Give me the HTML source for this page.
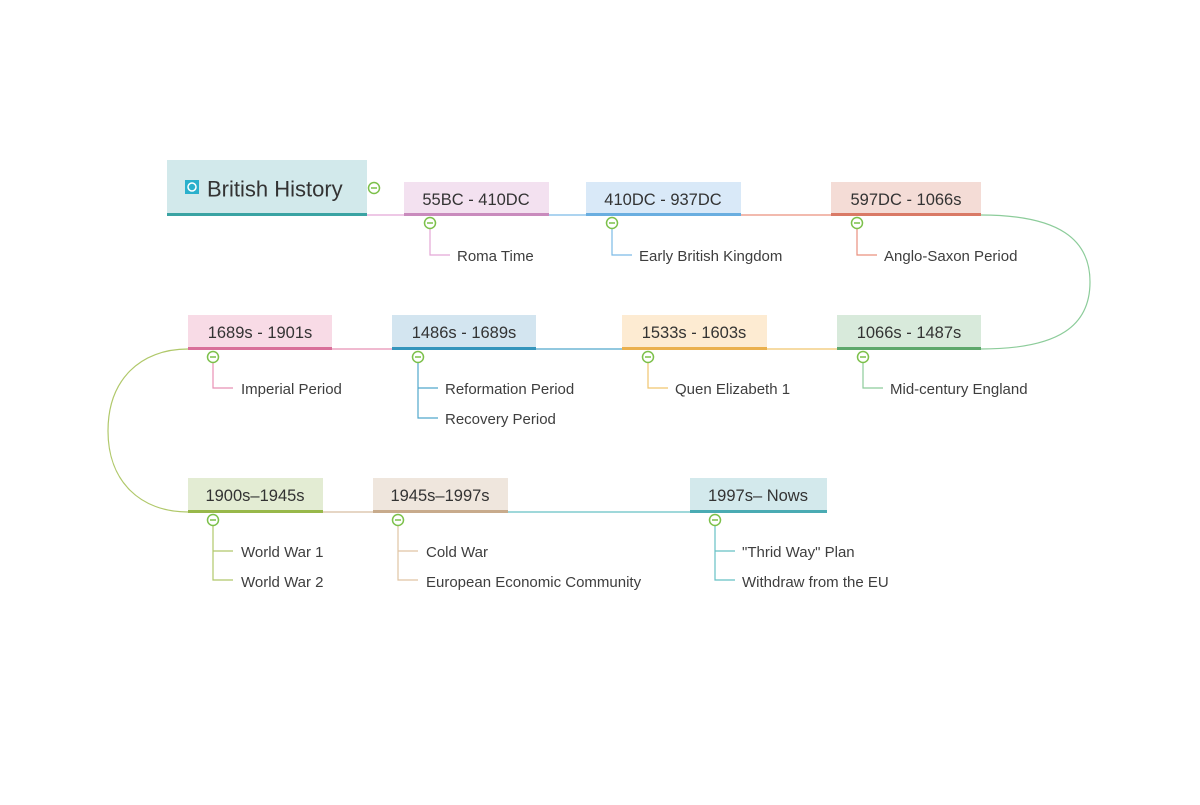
<!DOCTYPE html>
<html><head><meta charset="utf-8"><style>
html,body{margin:0;padding:0;background:#fff;}
svg text{font-family:"Liberation Sans",sans-serif;}
.n{font-size:16.5px;fill:#333;text-anchor:middle;}
.c{font-size:15px;fill:#3e3e3e;}
</style></head><body>
<svg width="1200" height="800" viewBox="0 0 1200 800" xmlns="http://www.w3.org/2000/svg">
<rect width="1200" height="800" fill="#fff"/>
<line x1="367" y1="215" x2="404" y2="215" stroke="#e4a6d6" stroke-width="1.2"/>
<line x1="549" y1="215" x2="586" y2="215" stroke="#7cbbe6" stroke-width="1.2"/>
<line x1="741" y1="215" x2="831" y2="215" stroke="#e9907e" stroke-width="1.2"/>
<path d="M981,215 C1060,215 1090,240 1090,282 C1090,325 1060,349 981,349" fill="none" stroke="#8ccc9a" stroke-width="1.2"/>
<line x1="767" y1="349" x2="837" y2="349" stroke="#f0c56e" stroke-width="1.2"/>
<line x1="536" y1="349" x2="622" y2="349" stroke="#50a8cc" stroke-width="1.2"/>
<line x1="332" y1="349" x2="392" y2="349" stroke="#e890b4" stroke-width="1.2"/>
<path d="M188,349 C140,349 108,380 108,431 C108,481 140,512 188,512" fill="none" stroke="#b0c86a" stroke-width="1.2"/>
<line x1="323" y1="512" x2="373" y2="512" stroke="#d6bea2" stroke-width="1.2"/>
<line x1="508" y1="512" x2="690" y2="512" stroke="#66c0c4" stroke-width="1.2"/>

<rect x="167" y="160" width="200" height="56" fill="#d2e9eb"/>
<rect x="167" y="213" width="200" height="3" fill="#3aa3a3"/>
<rect x="185" y="180" width="14" height="14" fill="#2ab0cc"/>
<circle cx="192" cy="187" r="4" fill="none" stroke="#fff" stroke-width="1.5"/>
<text x="207" y="196.5" style="font-size:22px;fill:#333">British History</text>

<rect x="404" y="182" width="145" height="34" fill="#f3e1f0"/><rect x="404" y="213" width="145" height="3" fill="#c98bbd"/><text class="n" x="476" y="205">55BC - 410DC</text>
<rect x="586" y="182" width="155" height="34" fill="#d9e9f8"/><rect x="586" y="213" width="155" height="3" fill="#6aaee0"/><text class="n" x="663" y="205">410DC - 937DC</text>
<rect x="831" y="182" width="150" height="34" fill="#f4dcd6"/><rect x="831" y="213" width="150" height="3" fill="#d97a66"/><text class="n" x="906" y="205">597DC - 1066s</text>

<rect x="188" y="315" width="144" height="35" fill="#f8dbe6"/><rect x="188" y="347" width="144" height="3" fill="#d9709a"/><text class="n" x="260" y="338">1689s - 1901s</text>
<rect x="392" y="315" width="144" height="35" fill="#d3e5f0"/><rect x="392" y="347" width="144" height="3" fill="#3595bc"/><text class="n" x="464" y="338">1486s - 1689s</text>
<rect x="622" y="315" width="145" height="35" fill="#fdebd2"/><rect x="622" y="347" width="145" height="3" fill="#eab04e"/><text class="n" x="694" y="338">1533s - 1603s</text>
<rect x="837" y="315" width="144" height="35" fill="#d8eadb"/><rect x="837" y="347" width="144" height="3" fill="#5fa86c"/><text class="n" x="909" y="338">1066s - 1487s</text>

<rect x="188" y="478" width="135" height="35" fill="#e3ecd3"/><rect x="188" y="510" width="135" height="3" fill="#98b84a"/><text class="n" x="255" y="501">1900s–1945s</text>
<rect x="373" y="478" width="135" height="35" fill="#efe6dd"/><rect x="373" y="510" width="135" height="3" fill="#c8ab8c"/><text class="n" x="440" y="501">1945s–1997s</text>
<rect x="690" y="478" width="137" height="35" fill="#d3e9ec"/><rect x="690" y="510" width="137" height="3" fill="#4aabb3"/><text class="n" x="758" y="501">1997s– Nows</text>

<g fill="none" stroke-width="1.2">
<path d="M430,227 V255 H450" stroke="#e4a6d6"/>
<path d="M612,227 V255 H632" stroke="#7cbbe6"/>
<path d="M857,227 V255 H877" stroke="#e9907e"/>
<path d="M213,361 V388 H233" stroke="#e890b4"/>
<path d="M418,361 V418 H438 M418,388 H438" stroke="#50a8cc"/>
<path d="M648,361 V388 H668" stroke="#f0c56e"/>
<path d="M863,361 V388 H883" stroke="#8ccc9a"/>
<path d="M213,524 V580 H233 M213,551 H233" stroke="#b0c86a"/>
<path d="M398,524 V580 H418 M398,551 H418" stroke="#e0c4a4"/>
<path d="M715,524 V580 H735 M715,551 H735" stroke="#66c0c4"/>
</g>
<g fill="#fff" stroke="#7cc04a" stroke-width="1.5">
<circle cx="374" cy="188" r="5.5"/>
<circle cx="430" cy="223" r="5.5"/><circle cx="612" cy="223" r="5.5"/><circle cx="857" cy="223" r="5.5"/>
<circle cx="213" cy="357" r="5.5"/><circle cx="418" cy="357" r="5.5"/><circle cx="648" cy="357" r="5.5"/><circle cx="863" cy="357" r="5.5"/>
<circle cx="213" cy="520" r="5.5"/><circle cx="398" cy="520" r="5.5"/><circle cx="715" cy="520" r="5.5"/>
</g>
<g stroke="#7cc04a" stroke-width="1.5">
<path d="M371,188H377 M427,223H433 M609,223H615 M854,223H860 M210,357H216 M415,357H421 M645,357H651 M860,357H866 M210,520H216 M395,520H401 M712,520H718"/>
</g>
<text class="c" x="457" y="261">Roma Time</text>
<text class="c" x="639" y="261">Early British Kingdom</text>
<text class="c" x="884" y="261">Anglo-Saxon Period</text>
<text class="c" x="241" y="394">Imperial Period</text>
<text class="c" x="445" y="394">Reformation Period</text>
<text class="c" x="445" y="424">Recovery Period</text>
<text class="c" x="675" y="394">Quen Elizabeth 1</text>
<text class="c" x="890" y="394">Mid-century England</text>
<text class="c" x="241" y="557">World War 1</text>
<text class="c" x="241" y="587">World War 2</text>
<text class="c" x="426" y="557">Cold War</text>
<text class="c" x="426" y="587">European Economic Community</text>
<text class="c" x="742" y="557">"Thrid Way" Plan</text>
<text class="c" x="742" y="587">Withdraw from the EU</text>
</svg>
</body></html>
